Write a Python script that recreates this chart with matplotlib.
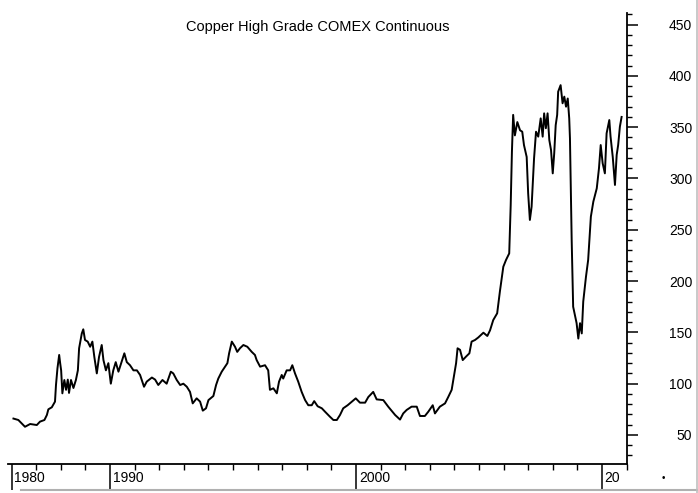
import matplotlib
matplotlib.use("Agg")
import matplotlib.pyplot as plt
import matplotlib.transforms as mtransforms
from matplotlib.lines import Line2D

plt.rcParams['font.family'] = ['Liberation Sans', 'DejaVu Sans']

# Copper high grade, COMEX continuous (cents/lb)
years = [1986.07, 1986.27, 1986.54, 1986.75, 1987.02, 1987.15, 1987.33, 1987.43, 1987.49, 1987.63,
         1987.76, 1987.80, 1987.86, 1987.93, 1987.97, 1988.01, 1988.06, 1988.14, 1988.21, 1988.28,
         1988.33, 1988.41, 1988.51, 1988.61, 1988.69, 1988.74, 1988.85, 1988.91, 1988.98, 1989.09,
         1989.19, 1989.28, 1989.36, 1989.46, 1989.55, 1989.66, 1989.73, 1989.83, 1989.93, 1990.03,
         1990.13, 1990.23, 1990.34, 1990.45, 1990.58, 1990.68, 1990.81, 1990.95, 1991.09, 1991.22,
         1991.38, 1991.49, 1991.70, 1991.83, 1991.96, 1992.13, 1992.30, 1992.47, 1992.57, 1992.71,
         1992.85, 1992.98, 1993.12, 1993.25, 1993.36, 1993.52, 1993.66, 1993.77, 1993.90, 1994.00,
         1994.20, 1994.31, 1994.40, 1994.54, 1994.67, 1994.77, 1994.84, 1994.95, 1995.08, 1995.17,
         1995.28, 1995.42, 1995.58, 1995.76, 1995.89, 1995.96, 1996.10, 1996.30, 1996.43, 1996.50,
         1996.64, 1996.78, 1996.87, 1996.98, 1997.04, 1997.18, 1997.32, 1997.41, 1997.52, 1997.65,
         1997.79, 1997.93, 1998.06, 1998.20, 1998.30, 1998.44, 1998.61, 1998.74, 1998.94, 1999.08,
         1999.22, 1999.35, 1999.48, 1999.66, 1999.83, 1999.99, 2000.16, 2000.37, 2000.50, 2000.70,
         2000.84, 2001.11, 2001.31, 2001.59, 2001.79, 2001.92, 2002.06, 2002.26, 2002.47, 2002.60,
         2002.80, 2002.94, 2003.12, 2003.21, 2003.41, 2003.62, 2003.75, 2003.89, 2003.98, 2004.07,
         2004.13, 2004.23, 2004.34, 2004.47, 2004.61, 2004.70, 2004.84, 2004.97, 2005.18, 2005.34,
         2005.45, 2005.58, 2005.74, 2005.85, 2005.99, 2006.10, 2006.23, 2006.29, 2006.34, 2006.39,
         2006.46, 2006.56, 2006.67, 2006.76, 2006.83, 2006.94, 2007.00, 2007.07, 2007.14, 2007.24,
         2007.32, 2007.41, 2007.51, 2007.59, 2007.65, 2007.72, 2007.79, 2007.86, 2007.93, 2008.00,
         2008.06, 2008.12, 2008.18, 2008.22, 2008.32, 2008.40, 2008.47, 2008.54, 2008.61, 2008.67,
         2008.70, 2008.77, 2008.83, 2008.97, 2009.04, 2009.11, 2009.18, 2009.24, 2009.35, 2009.44,
         2009.55, 2009.65, 2009.79, 2009.88, 2009.95, 2010.03, 2010.12, 2010.19, 2010.30, 2010.35,
         2010.44, 2010.53, 2010.60, 2010.66, 2010.73, 2010.80]
prices = [66, 64.6, 58, 60.7, 59.7, 63, 64.6, 69.5, 75, 77,
          82.5, 98.7, 115, 128, 120, 113, 90.6, 103.6, 94, 104,
          91, 103.6, 95.8, 103.6, 113, 134.5, 149, 153, 142.6, 141,
          136, 141, 126, 110, 126, 137.7, 123, 113, 120, 100,
          113, 121, 111.7, 120, 129.6, 121, 118, 113, 113, 108.5,
          97, 102, 106, 104, 98.7, 103.6, 100, 111.7, 110, 103.6,
          98.7, 100, 97, 92, 80.8, 85.7, 82.5, 73.7, 76, 84,
          88, 98.7, 105, 111.7, 116.5, 120, 129.6, 141, 136, 131,
          134.5, 137.7, 136, 131, 128, 123, 116.6, 118, 113, 94,
          95.5, 90.6, 102, 108.5, 105, 113, 113, 118, 110, 102,
          92, 84, 79, 79, 83, 78, 76, 72.7, 67.8, 64.6,
          64.6, 69.5, 76, 79, 82.5, 85.7, 81.5, 81.5, 87, 92,
          84.7, 84, 77.6, 69.5, 65, 71, 74.4, 77.6, 77.6, 68.5,
          68.5, 72.7, 79, 71, 77.6, 80.8, 87, 94, 106.8, 120,
          134.5, 133, 123, 126.3, 129.6, 141, 142.6, 145, 149.7, 146.5,
          152, 162, 168.6, 189.7, 214, 220.6, 227, 274, 326, 362,
          342, 355, 347, 345.6, 332.6, 321, 285.6, 259.6, 272.5, 319.6,
          345.6, 340.8, 358.6, 340.8, 363.5, 349, 363.5, 337.5, 327.8, 305,
          324.6, 352, 362, 384.6, 391, 373.3, 379.8, 370, 378, 358.6,
          339, 240, 175, 159, 144, 159, 149, 180, 204, 220.6,
          262.8, 277.4, 290.4, 310, 332.6, 314.8, 305, 344, 357, 341,
          321, 293.7, 323, 332.6, 350.5, 360]

x_major = [1986, 1990, 2000, 2010]
x_labels = ["1980", "1990", "2000", "20"]
y_major = list(range(50, 451, 50))
y_minor = list(range(30, 461, 10))
x_minor = list(range(1986, 2012))

fig = plt.figure(figsize=(6.98, 4.93), dpi=100)
ax = fig.add_axes([0.0115, 0.0588, 0.8868, 0.9148])

ax.plot(years, prices, color='black', lw=1.4)

ax.set_xlim(1985.85, 2011.02)
ax.set_ylim(21.7, 461.3)

for side in ['left', 'top']:
    ax.spines[side].set_visible(False)
ax.spines['right'].set_linewidth(1.3)
ax.spines['bottom'].set_linewidth(1.3)

ax.yaxis.tick_right()
ax.set_yticks(y_major)
ax.set_yticks(y_minor, minor=True)
ax.tick_params(axis='y', which='major', length=8, width=1.1, pad=39, labelsize=10)
ax.tick_params(axis='y', which='minor', length=3.6, width=1.0)
for lbl in ax.get_yticklabels():
    lbl.set_ha('right')

ax.set_xticks(x_major)
ax.set_xticks(x_minor, minor=True)
ax.tick_params(axis='x', which='major', length=19, width=1.1, labelbottom=False)
ax.tick_params(axis='x', which='minor', length=4.3, width=1.0)

offset = mtransforms.ScaledTranslation(2 / 72, -5 / 72, fig.dpi_scale_trans)
trans = mtransforms.blended_transform_factory(ax.transData, ax.transAxes) + offset
for xv, lab in zip(x_major, x_labels):
    ax.text(xv, 0, lab, transform=trans, ha='left', va='top', fontsize=10)

fig.text(318 / 698, 1 - 27 / 493, "Copper High Grade COMEX Continuous",
         ha='center', va='center', fontsize=10.5)

# frame shadow and the little dot in the corner
fig.add_artist(Line2D([0.03, 1.0], [0.006, 0.006], transform=fig.transFigure,
                      color='#b0b0b0', lw=1.5))
fig.add_artist(Line2D([0.998, 0.998], [0.0, 1.0], transform=fig.transFigure,
                      color='#c0c0c0', lw=1.2))
fig.text(663 / 698, 1 - 478 / 493, "•", ha='center', va='center', fontsize=7)

fig.savefig("out.png", dpi=100)
